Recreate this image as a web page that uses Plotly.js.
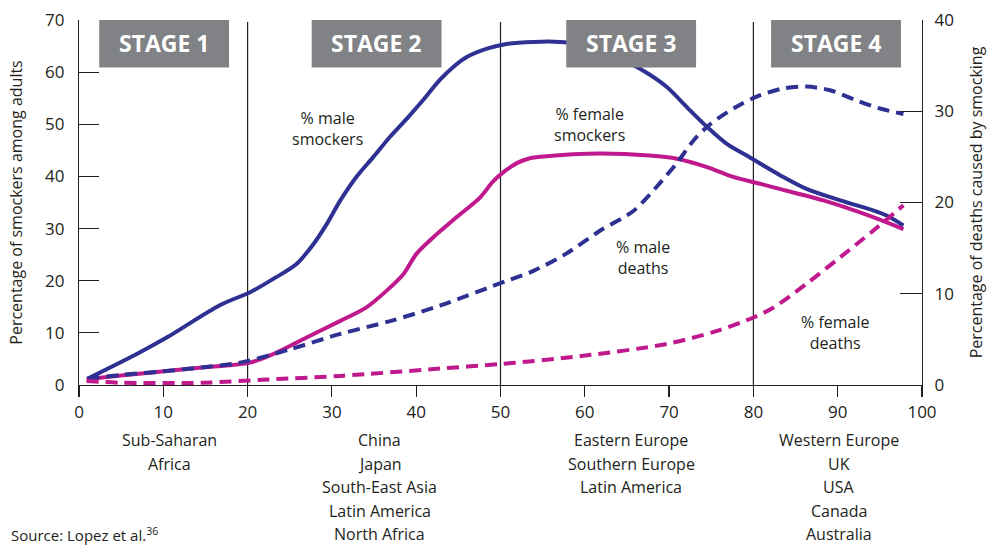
<!DOCTYPE html>
<html>
<head>
<meta charset="utf-8">
<script src="https://cdn.plot.ly/plotly-3.0.1.min.js"></script>
<style>html,body{margin:0;padding:0;background:#fff;}#chart{width:987px;height:545px;}</style>
</head>
<body>
<div id="chart"></div>
<script>
// ---- data ----
const maleSmokersX = [1, 6.8, 10.4, 16.7, 20.3, 23, 25.8, 27.8, 29.4, 31, 32.9, 34.9, 36.9, 38.9, 40.8, 42.8, 44.4, 46, 48.4, 50.7, 53.9, 57.1, 60, 63, 66.5, 69.7, 72.1, 74.5, 76.8, 79.2, 83.2, 86.3, 90.3, 94.2, 95.8, 97.8];
const maleSmokersY = [1.2, 5.9, 9.1, 15.3, 17.8, 20.3, 23.2, 27.0, 30.9, 35.4, 39.9, 43.7, 47.6, 51.1, 54.6, 58.5, 61.0, 62.9, 64.5, 65.4, 65.8, 65.8, 65.2, 63.5, 60.7, 57.2, 53.3, 49.5, 46.3, 44.0, 40.2, 37.6, 35.4, 33.5, 32.5, 30.6];

const femaleSmokersX = [0.9, 5, 10.4, 15, 20.3, 23, 27, 31, 34.1, 36.5, 38.5, 40, 42, 44.8, 47.6, 49.1, 50.5, 52, 53.3, 55.1, 61.8, 67.7, 70.9, 74.5, 77.6, 80.8, 82.4, 88.3, 94.2, 97.8];
const femaleSmokersY = [1.1, 1.8, 2.7, 3.4, 4.3, 5.9, 9.1, 12.3, 14.9, 18.1, 21.3, 25.1, 28.3, 32.2, 36.0, 39.0, 41.0, 42.6, 43.4, 43.8, 44.4, 44.0, 43.4, 41.8, 39.9, 38.6, 37.9, 35.4, 32.2, 29.9];

const maleDeathsX = [1, 5, 10, 14.4, 19.1, 25, 31, 36.9, 42.8, 50.7, 53.9, 57.8, 61.8, 65.8, 68.5, 70.9, 72.9, 74.9, 78, 80.4, 83.5, 86.3, 89.1, 92.2, 95, 97.8];
const maleDeathsY = [0.7, 1.1, 1.5, 1.9, 2.45, 3.9, 5.6, 7.0, 8.7, 11.4, 12.5, 14.4, 16.9, 19.1, 21.7, 24.3, 26.8, 28.6, 30.5, 31.6, 32.5, 32.7, 32.3, 31.2, 30.3, 29.7];

const femaleDeathsX = [0.9, 4.9, 14.7, 22.3, 31, 42.8, 50, 59.8, 69.7, 75.6, 80, 82.4, 86.3, 90.3, 94.2, 97.8];
const femaleDeathsY = [0.45, 0.25, 0.25, 0.6, 1.0, 1.8, 2.3, 3.2, 4.5, 5.9, 7.4, 8.5, 11.1, 14.0, 16.9, 19.7];

const xTicks = [0, 10, 20, 30, 40, 50, 60, 70, 80, 90, 100];
const stageLabels = ['STAGE 1', 'STAGE 2', 'STAGE 3', 'STAGE 4'];
const stageStart = [2.4, 27.6, 57.8, 82.1];
const stageEnd = [17.8, 43.0, 73.2, 97.5];
const stageDividers = [20, 50, 80];

const regionCenters = [10.7, 35.7, 65.5, 90.1];
const regionLines = [
  ['Sub-Saharan', 'Africa'],
  ['China', 'Japan', 'South-East Asia', 'Latin America', 'North Africa'],
  ['Eastern Europe', 'Southern Europe', 'Latin America'],
  ['Western Europe', 'UK', 'USA', 'Canada', 'Australia']
];

const seriesLabels = [
  {text: '% male<br>smockers', x: 29.5, y: 49.2},
  {text: '% female<br>smockers', x: 60.6, y: 50},
  {text: '% male<br>deaths', x: 66.9, y: 24.4},
  {text: '% female<br>deaths', x: 89.7, y: 10}
];

// ---- styling ----
const BLUE = '#2e3192';
const MAG = '#c0198e';
const INK = '#231f20';
const FONT = 'Open Sans, Noto Sans, sans-serif';

const traces = [
  {x: maleDeathsX, y: maleDeathsY, yaxis: 'y2', mode: 'lines', name: '% male deaths',
   line: {color: BLUE, width: 4, dash: '12px,7px', shape: 'spline', smoothing: 0.85}},
  {x: femaleDeathsX, y: femaleDeathsY, yaxis: 'y2', mode: 'lines', name: '% female deaths',
   line: {color: MAG, width: 4, dash: '12px,7px', shape: 'spline', smoothing: 0.85}},
  {x: maleSmokersX, y: maleSmokersY, mode: 'lines', name: '% male smockers',
   line: {color: BLUE, width: 4, shape: 'spline', smoothing: 0.85}},
  {x: femaleSmokersX, y: femaleSmokersY, mode: 'lines', name: '% female smockers',
   line: {color: MAG, width: 4, shape: 'spline', smoothing: 0.85}}
];

const shapes = [];
stageDividers.forEach(v => shapes.push({type: 'line', xref: 'x', yref: 'y', x0: v, x1: v, y0: 0, y1: 69.6,
  line: {color: INK, width: 1.2}, layer: 'below'}));
stageLabels.forEach((s, i) => shapes.push({type: 'rect', xref: 'x', yref: 'y', x0: stageStart[i], x1: stageEnd[i],
  y0: 60.9, y1: 70.2, fillcolor: '#818285', line: {width: 0}, layer: 'above'}));

const annotations = [];
stageLabels.forEach((s, i) => annotations.push({text: '<b>' + s + '</b>', xref: 'x', yref: 'y',
  x: (stageStart[i] + stageEnd[i]) / 2, y: 65.5, showarrow: false,
  font: {family: FONT, size: 23, color: '#ffffff'}}));
seriesLabels.forEach(l => annotations.push({text: l.text, xref: 'x', yref: 'y', x: l.x, y: l.y,
  showarrow: false, font: {family: FONT, size: 16, color: INK}}));
regionLines.forEach((lines, i) => lines.forEach((t, j) => annotations.push({text: t, xref: 'x', yref: 'paper',
  x: regionCenters[i], y: -(440 - 385 + j * 23.5) / 365, yanchor: 'middle', showarrow: false,
  font: {family: FONT, size: 16, color: INK}})));
annotations.push({text: 'Source: Lopez et al.<sup>36</sup>', xref: 'paper', yref: 'paper',
  x: (9 - 79) / 843, y: -(534 - 385) / 365, xanchor: 'left', yanchor: 'middle', showarrow: false,
  font: {family: FONT, size: 15, color: INK}});

const layout = {
  width: 987, height: 545,
  margin: {l: 79, r: 65, t: 20, b: 160},
  paper_bgcolor: '#ffffff', plot_bgcolor: '#ffffff',
  showlegend: false,
  font: {family: FONT, size: 17, color: INK},
  xaxis: {range: [0, 100], tickvals: xTicks, ticks: 'outside', ticklen: 11, tickcolor: INK, tickwidth: 1.2,
    showline: true, linecolor: INK, linewidth: 1.2, showgrid: false, zeroline: false,
    tickfont: {family: FONT, size: 17, color: INK}},
  yaxis: {range: [0, 70], dtick: 10, ticks: 'inside', ticklen: 20, tickcolor: INK, tickwidth: 1.2,
    showline: true, linecolor: INK, linewidth: 1.2, showgrid: false, zeroline: false,
    ticklabelstandoff: 10, tickfont: {family: FONT, size: 17, color: INK},
    title: {text: 'Percentage of smockers among adults', font: {family: FONT, size: 16, color: INK}, standoff: 18}},
  yaxis2: {range: [0, 40], dtick: 10, overlaying: 'y', side: 'right', ticks: 'inside', ticklen: 22, tickcolor: INK, tickwidth: 1.2,
    showline: true, linecolor: INK, linewidth: 1.2, showgrid: false, zeroline: false,
    ticklabelstandoff: 8, tickfont: {family: FONT, size: 17, color: INK},
    title: {text: 'Percentage of deaths caused by smocking', font: {family: FONT, size: 16, color: INK}, standoff: 20}},
  shapes: shapes,
  annotations: annotations
};

Plotly.newPlot('chart', traces, layout, {displayModeBar: false, staticPlot: true});
</script>
</body>
</html>
